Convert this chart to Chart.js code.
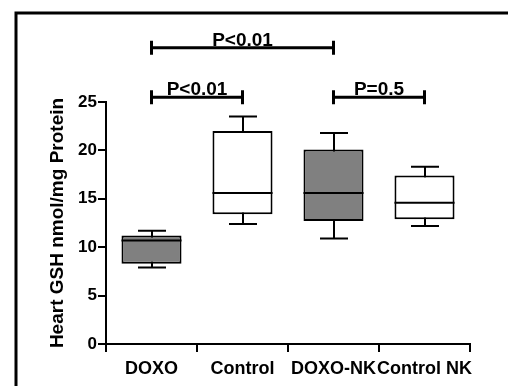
<!DOCTYPE html>
<html>
<head>
<meta charset="utf-8">
<script src="https://cdn.jsdelivr.net/npm/chart.js@4.4.1/dist/chart.umd.min.js"></script>
<style>
  html, body { margin: 0; padding: 0; background: #fff; overflow: hidden; }
  #wrap { width: 508px; height: 386px; }
</style>
</head>
<body>
<div id="wrap"><canvas id="gshChart" width="508" height="386"></canvas></div>
<script>
// groups and box plot values (Heart GSH nmol/mg protein)
const groups = ["DOXO", "Control", "DOXO-NK", "Control NK"];
const whiskerLow = [7.9, 12.4, 10.9, 12.2];
const boxLow = [8.3, 13.4, 12.7, 12.9];
const medians = [10.7, 15.6, 15.6, 14.6];
const boxHigh = [11.2, 22.0, 20.1, 17.4];
const whiskerHigh = [11.7, 23.5, 21.8, 18.3];
const yTicks = [0, 5, 10, 15, 20, 25];

// significance brackets
const bracketFrom = ["DOXO", "DOXO", "DOXO-NK"];
const bracketTo = ["DOXO-NK", "Control", "Control NK"];
const bracketLevel = [30.6, 25.5, 25.5];
const bracketText = ["P<0.01", "P<0.01", "P=0.5"];

const FONT = "'Liberation Sans', Arial, sans-serif";
const boxColors = ["#808080", "#ffffff", "#808080", "#ffffff"];

const boxExtras = {
    id: "boxExtras",
    beforeDraw(chart) {
        // outer frame (only top and left edges show)
        const ctx = chart.ctx;
        ctx.save();
        ctx.strokeStyle = "#000";
        ctx.lineWidth = 3;
        ctx.strokeRect(16, 13, 1000, 1000);
        ctx.restore();
    },
    beforeDatasetsDraw(chart) {
        // whiskers behind the boxes
        const { ctx, scales: { x, y } } = chart;
        ctx.save();
        ctx.strokeStyle = "#000";
        ctx.lineWidth = 2;
        groups.forEach((g, i) => {
            const cx = Math.round(x.getPixelForValue(i));
            const lo = y.getPixelForValue(whiskerLow[i]);
            const hi = y.getPixelForValue(whiskerHigh[i]);
            ctx.beginPath();
            ctx.moveTo(cx, lo);
            ctx.lineTo(cx, hi);
            ctx.moveTo(cx - 14, lo);
            ctx.lineTo(cx + 14, lo);
            ctx.moveTo(cx - 14, hi);
            ctx.lineTo(cx + 14, hi);
            ctx.stroke();
        });
        ctx.restore();
    },
    afterDatasetsDraw(chart) {
        // median lines
        const { ctx, scales: { y } } = chart;
        const meta = chart.getDatasetMeta(0);
        ctx.save();
        ctx.strokeStyle = "#000";
        ctx.lineWidth = 2;
        meta.data.forEach((bar, i) => {
            const my = y.getPixelForValue(medians[i]);
            ctx.beginPath();
            ctx.moveTo(bar.x - bar.width / 2, my);
            ctx.lineTo(bar.x + bar.width / 2, my);
            ctx.stroke();
        });
        ctx.restore();
    },
    afterDraw(chart) {
        // P-value brackets
        const { ctx, scales: { x, y } } = chart;
        ctx.save();
        ctx.strokeStyle = "#000";
        ctx.fillStyle = "#000";
        ctx.lineWidth = 3;
        ctx.font = "bold 19px " + FONT;
        ctx.textAlign = "center";
        ctx.textBaseline = "alphabetic";
        bracketText.forEach((t, i) => {
            const x1 = x.getPixelForValue(groups.indexOf(bracketFrom[i]));
            const x2 = x.getPixelForValue(groups.indexOf(bracketTo[i]));
            const by = y.getPixelForValue(bracketLevel[i]);
            ctx.beginPath();
            ctx.moveTo(x1, by);
            ctx.lineTo(x2, by);
            ctx.moveTo(x1, by - 7);
            ctx.lineTo(x1, by + 7);
            ctx.moveTo(x2, by - 7);
            ctx.lineTo(x2, by + 7);
            ctx.stroke();
            ctx.fillText(t, (x1 + x2) / 2, by - 2);
        });
        ctx.restore();
    }
};

const ctx = document.getElementById("gshChart").getContext("2d");
const gshChart = new Chart(ctx, {
    type: "bar",
    data: {
        labels: groups,
        datasets: [{
            data: boxLow.map((v, i) => [v, boxHigh[i]]),
            backgroundColor: boxColors,
            borderColor: "#000",
            borderWidth: 2,
            borderSkipped: false,
            barPercentage: 0.66,
            categoryPercentage: 1
        }]
    },
    options: {
        responsive: false,
        animation: false,
        layout: { padding: { top: 102, right: 38, left: 0, bottom: 0 } },
        plugins: { legend: { display: false }, tooltip: { enabled: false } },
        scales: {
            x: {
                grid: { display: true, drawOnChartArea: false, drawTicks: true, tickLength: 8, color: "#000", lineWidth: 2 },
                border: { display: true, color: "#000", width: 2 },
                ticks: {
                    color: "#000", padding: 6, autoSkip: false, maxRotation: 0, minRotation: 0,
                    font: { family: FONT, size: 18, weight: "bold" }
                },
                afterFit: s => { s.height = 42; }
            },
            y: {
                min: 0,
                max: 25,
                afterBuildTicks: s => { s.ticks = yTicks.map(v => ({ value: v })); },
                grid: { display: true, drawOnChartArea: false, drawTicks: true, tickLength: 8, color: "#000", lineWidth: 2 },
                border: { display: true, color: "#000", width: 2 },
                ticks: { color: "#000", padding: 1, font: { family: FONT, size: 17, weight: "bold" } },
                title: {
                    display: true,
                    text: "Heart GSH nmol/mg Protein",
                    color: "#000",
                    padding: { top: 46, bottom: 0 },
                    font: { family: FONT, size: 19, weight: "bold" }
                },
                afterFit: s => { s.width = 106; }
            }
        }
    },
    plugins: [boxExtras]
});
</script>
</body>
</html>
